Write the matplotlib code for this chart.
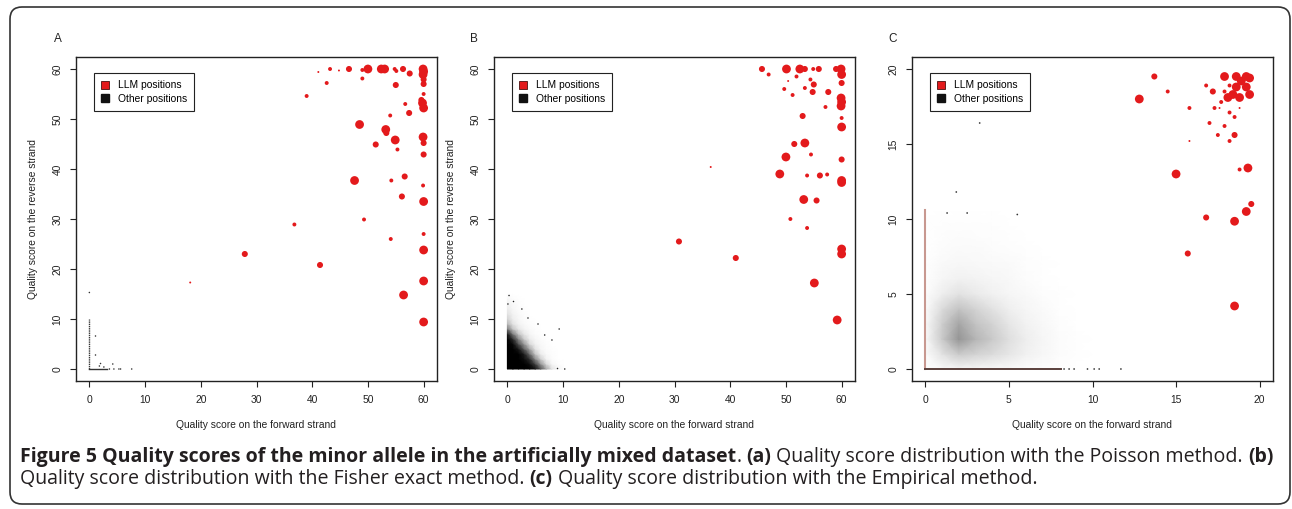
import numpy as np
import matplotlib
matplotlib.use("Agg")
import matplotlib.pyplot as plt
from matplotlib import font_manager
from matplotlib.font_manager import FontProperties
from matplotlib.lines import Line2D
from matplotlib.patches import FancyBboxPatch
from matplotlib.transforms import IdentityTransform

# ---- data ----
# size class of each LLM point: 1 tiny, 2 small, 3 medium, 4 large

# panel A, Poisson method
a_llm_fwd = [41.1, 43.2, 44.8, 46.6, 49.0, 50.0, 52.4, 53.0, 54.8, 55.1, 56.3, 57.5, 59.9, 60.0,
             59.9, 60.0, 60.0, 42.6, 49.0, 55.0, 39.0, 60.0, 59.8, 60.0, 59.6, 56.7, 57.4, 54.0,
             48.5, 53.2, 53.3, 54.9, 51.4, 55.3, 59.9, 60.0, 60.0, 47.6, 54.2, 56.6, 59.9, 56.1,
             60.0, 36.8, 49.3, 54.1, 60.0, 60.0, 41.4, 27.9, 18.1, 60.0, 56.4, 60.0]
a_llm_rev = [59.4, 60.0, 59.7, 60.0, 59.8, 60.0, 60.0, 60.0, 60.0, 59.6, 60.0, 59.1, 60.0, 59.5,
             58.9, 57.9, 57.0, 57.2, 58.1, 56.8, 54.6, 55.0, 53.2, 52.2, 53.8, 53.0, 51.2, 50.7,
             48.9, 47.9, 47.2, 45.8, 44.9, 43.9, 46.4, 45.2, 42.9, 37.7, 37.7, 38.5, 36.7, 34.5,
             33.5, 28.9, 29.9, 26.0, 27.0, 23.8, 20.8, 23.0, 17.3, 17.6, 14.8, 9.4]
a_llm_size = [1, 2, 1, 3, 2, 4, 4, 4, 2, 2, 3, 3, 4, 4,
              4, 3, 3, 2, 2, 3, 2, 2, 4, 4, 3, 2, 3, 2,
              4, 4, 3, 4, 3, 2, 4, 3, 3, 4, 2, 3, 2, 3,
              4, 2, 2, 2, 2, 4, 3, 3, 1, 4, 4, 4]
a_oth_fwd = [0.0, 1.1, 1.1, 2.0, 1.8, 4.2, 2.6, 3.6, 4.4, 5.3, 5.6, 7.6]
a_oth_rev = [15.3, 6.6, 2.8, 1.1, 0.6, 1.0, 0.4, 0.0, 0.0, 0.0, 0.0, 0.0]
a_rev_max_at_fwd0 = 10.0
a_fwd_max_at_rev0 = 3.2

# panel B, Fisher exact method
b_llm_fwd = [45.7, 46.9, 50.1, 52.5, 53.4, 54.9, 55.9, 59.0, 59.9, 60.0, 60.0, 50.4, 51.9, 54.4,
             55.0, 49.7, 53.4, 54.8, 57.6, 51.2, 59.9, 59.9, 60.0, 57.1, 60.0, 53.0, 60.0, 51.5,
             53.4, 54.5, 50.0, 60.0, 36.5, 48.9, 53.8, 56.1, 57.4, 60.0, 60.0, 53.2, 55.5, 50.8,
             53.8, 60.0, 60.0, 41.0, 30.8, 55.1, 59.2]
b_llm_rev = [60.0, 58.9, 60.0, 60.0, 60.0, 60.0, 60.0, 60.0, 60.0, 58.9, 57.2, 57.6, 58.5, 57.9,
             56.9, 56.0, 56.2, 55.4, 55.4, 54.8, 54.2, 52.6, 53.4, 52.4, 50.2, 50.6, 48.4, 45.0,
             45.2, 42.9, 42.4, 41.9, 40.4, 39.0, 38.7, 38.7, 38.9, 37.7, 37.3, 33.9, 33.7, 30.0,
             28.2, 24.0, 23.0, 22.2, 25.5, 17.2, 9.8]
b_llm_size = [3, 2, 4, 4, 3, 2, 3, 3, 4, 4, 3, 1, 2, 2,
              3, 2, 2, 3, 3, 2, 4, 4, 4, 2, 2, 3, 4, 3,
              4, 2, 4, 3, 1, 4, 2, 3, 2, 4, 4, 4, 3, 2,
              2, 4, 4, 3, 3, 4, 4]
b_oth_fwd = [9.3, 6.7, 8.0, 1.1, 2.6, 3.7, 5.5, 10.3, 9.0, 0.3, 0.1]
b_oth_rev = [8.0, 6.8, 5.8, 13.5, 12.0, 10.2, 9.0, 0.0, 0.1, 14.7, 13.0]
# density of the other positions on a 1-unit grid (rows: reverse 0..15, cols: forward 0..10)
b_density = [
    [1, 1, 1, 1, 1, .95, .75, .45, .2, .08, .03],
    [1, 1, 1, 1, .95, .8, .5, .25, .08, .03, 0],
    [1, 1, 1, .95, .85, .55, .3, .1, .03, 0, 0],
    [1, 1, 1, .9, .65, .35, .15, .05, .02, 0, 0],
    [1, 1, .92, .7, .45, .2, .08, .03, .01, 0, 0],
    [1, .97, .75, .5, .25, .12, .05, .02, 0, 0, 0],
    [1, .85, .55, .32, .15, .07, .03, .01, 0, 0, 0],
    [.92, .6, .35, .18, .08, .03, .01, 0, 0, 0, 0],
    [.6, .35, .18, .09, .04, .02, 0, 0, 0, 0, 0],
    [.4, .2, .1, .05, .02, 0, 0, 0, 0, 0, 0],
    [.28, .14, .07, .03, .01, 0, 0, 0, 0, 0, 0],
    [.2, .1, .05, .02, 0, 0, 0, 0, 0, 0, 0],
    [.15, .07, .03, .01, 0, 0, 0, 0, 0, 0, 0],
    [.1, .05, .02, 0, 0, 0, 0, 0, 0, 0, 0],
    [.07, .03, .01, 0, 0, 0, 0, 0, 0, 0, 0],
    [0, 0, 0, 0, 0, 0, 0, 0, 0, 0, 0],
]

# panel C, Empirical method
c_llm_fwd = [13.7, 14.5, 12.8, 17.9, 18.6, 19.2, 19.4, 18.9, 19.2, 18.6, 18.4, 18.8, 19.4, 18.1,
             16.8, 17.2, 17.9, 18.2, 15.8, 17.3, 17.6, 18.8, 18.2, 17.7, 18.5, 17.0, 17.9, 17.5,
             18.5, 18.2, 15.8, 19.3, 18.8, 15.0, 19.5, 19.2, 16.8, 18.5, 15.7, 18.5]
c_llm_rev = [19.5, 18.5, 18.0, 19.5, 19.5, 19.5, 19.4, 19.2, 18.8, 18.8, 18.3, 18.1, 18.3, 18.1,
             18.9, 18.5, 18.5, 18.9, 17.4, 17.4, 17.4, 17.4, 17.1, 17.8, 16.8, 16.4, 16.2, 15.6,
             15.6, 15.2, 15.2, 13.4, 13.3, 13.0, 11.0, 10.5, 10.1, 9.85, 7.7, 4.2]
c_llm_size = [3, 2, 4, 4, 4, 4, 4, 4, 4, 4, 4, 4, 4, 4,
              2, 3, 2, 2, 2, 2, 1, 1, 2, 2, 2, 2, 2, 2,
              3, 2, 1, 4, 2, 4, 3, 4, 3, 4, 3, 4]
c_oth_fwd = [3.25, 1.85, 1.3, 2.5, 5.5, 8.3, 8.6, 8.9, 9.7, 10.1, 10.4, 11.7]
c_oth_rev = [16.4, 11.8, 10.4, 10.4, 10.3, 0, 0, 0, 0, 0, 0, 0]
c_rev_max_at_fwd0 = 10.6
c_fwd_max_at_rev0 = 8.1
# rows: reverse 0..11, cols: forward 0..10
c_density = [
    [0, .05, .08, .08, .06, .05, .03, .02, .01, 0, 0],
    [.03, .2, .32, .28, .24, .18, .12, .07, .03, .01, 0],
    [.04, .32, .5, .4, .32, .22, .14, .08, .03, .01, 0],
    [.04, .3, .45, .35, .28, .18, .11, .06, .02, 0, 0],
    [.03, .24, .35, .28, .2, .13, .08, .04, .01, 0, 0],
    [.02, .14, .2, .16, .12, .08, .05, .02, .01, 0, 0],
    [.01, .08, .12, .1, .08, .06, .03, .01, 0, 0, 0],
    [.01, .05, .07, .06, .05, .04, .02, .01, 0, 0, 0],
    [0, .03, .04, .04, .03, .02, .01, 0, 0, 0, 0],
    [0, .02, .03, .02, .02, .01, 0, 0, 0, 0, 0],
    [0, .01, .01, .01, .01, 0, 0, 0, 0, 0, 0],
    [0, 0, 0, 0, 0, 0, 0, 0, 0, 0, 0],
]

caption_l1 = [("Figure 5 Quality scores of the minor allele in the artificially mixed dataset", "bold", False),
              (".", "normal", True),
              ("(a)", "bold", True),
              ("Quality score distribution with the Poisson method.", "normal", True),
              ("(b)", "bold", False)]
caption_l2 = [("Quality score distribution with the Fisher exact method.", "normal", True),
              ("(c)", "bold", True),
              ("Quality score distribution with the Empirical method.", "normal", False)]

RED = "#e31a1c"
SIZE_PT = {1: 2, 2: 8, 3: 19, 4: 40}
W, H = 1292, 509
FS = 7.4


def pick_font(cands):
    for c in cands:
        try:
            font_manager.findfont(FontProperties(family=c), fallback_to_default=False)
            return c
        except ValueError:
            pass
    return "DejaVu Sans"


AX_FONT = pick_font(["Liberation Sans", "Arial"])
CAP_FONT = pick_font(["Open Sans", "Lato"])
plt.rcParams["font.family"] = [AX_FONT, "DejaVu Sans"]

fig = plt.figure(figsize=(W / 100, H / 100), dpi=100)

# outer rounded frame
fig.patches.append(FancyBboxPatch((0.10, 0.05), 12.80, 4.97,
                                  boxstyle="round,pad=0,rounding_size=0.12",
                                  transform=fig.dpi_scale_trans, fill=False,
                                  edgecolor="#333333", linewidth=1.2))


def setup_axes(left, xmax, ticks, letter, letter_x, ylabel_x):
    ax = fig.add_axes([left / W, 128 / H, 361 / W, 324 / H])
    pad = xmax * 0.04
    ax.set_xlim(-pad, xmax + pad)
    ax.set_ylim(-pad, xmax + pad)
    ax.set_xticks(ticks)
    ax.set_yticks(ticks)
    ax.tick_params(direction="out", length=4.3, width=0.8, labelsize=FS,
                   colors="#222222", pad=6)
    ax.tick_params(axis="y", labelrotation=90, pad=5.5)
    for lab in ax.get_yticklabels():
        lab.set_va("center")
    for sp in ax.spines.values():
        sp.set_linewidth(1.0)
        sp.set_color("#222222")
    fig.text(letter_x / W, 1 - 39 / H, letter, ha="center", va="center",
             fontsize=8.5, color="#222222")
    fig.text((left + 180.5) / W, 1 - 425 / H, "Quality score on the forward strand",
             ha="center", va="center", fontsize=FS, color="#222222")
    if ylabel_x is not None:
        fig.text(ylabel_x / W, 1 - 219 / H, "Quality score on the reverse strand",
                 ha="center", va="center", rotation=90, fontsize=FS, color="#222222")
    handles = [Line2D([], [], marker="s", ls="none", mfc=RED, mec="#4a1010", ms=5.5, mew=0.6),
               Line2D([], [], marker="s", ls="none", mfc="#111111", mec="#111111", ms=5.5)]
    leg = ax.legend(handles, ["LLM positions", "Other positions"], loc="upper left",
                    bbox_to_anchor=(0.05, 0.95), borderaxespad=0, fontsize=FS,
                    fancybox=False, framealpha=1, edgecolor="#222222",
                    handlelength=0.8, handletextpad=0.8, labelspacing=0.32,
                    borderpad=0.7)
    leg.get_frame().set_linewidth(0.8)
    leg.set_zorder(10)
    return ax


def draw_llm(ax, fx, ry, sz):
    ax.scatter(fx, ry, s=[SIZE_PT[v] for v in sz], color=RED, edgecolors="none", zorder=5)


def draw_density(ax, dens):
    d = np.array(dens, dtype=float)
    X, Y = np.meshgrid(np.arange(d.shape[1]), np.arange(d.shape[0]))
    ax.pcolormesh(X, Y, d, shading="gouraud", cmap="Greys", vmin=0, vmax=1, zorder=1)


# panel A
axA = setup_axes(76, 60, range(0, 61, 10), "A", 58, 33)
axA.plot([0, 0], [0, a_rev_max_at_fwd0], color="#333333", lw=1.0, ls=(0, (1, 0.6)), zorder=2)
axA.plot([0, a_fwd_max_at_rev0], [0, 0], color="#333333", lw=1.0, zorder=2)
axA.scatter(a_oth_fwd, a_oth_rev, s=1.2, color="#333333", edgecolors="none", zorder=2)
draw_llm(axA, a_llm_fwd, a_llm_rev, a_llm_size)

# panel B
axB = setup_axes(494, 60, range(0, 61, 10), "B", 474, 451)
draw_density(axB, b_density)
axB.scatter(b_oth_fwd, b_oth_rev, s=1.2, color="#222222", edgecolors="none", zorder=2)
draw_llm(axB, b_llm_fwd, b_llm_rev, b_llm_size)

# panel C
axC = setup_axes(912, 20, range(0, 21, 5), "C", 893, None)
draw_density(axC, c_density)
axC.plot([0, 0], [0, c_rev_max_at_fwd0], color="#c89890", lw=1.5, zorder=2)
axC.plot([0, c_fwd_max_at_rev0], [0, 0], color="#5a403c", lw=1.4, zorder=2)
axC.scatter(c_oth_fwd, c_oth_rev, s=1.5, color="#333333", edgecolors="none", zorder=2)
draw_llm(axC, c_llm_fwd, c_llm_rev, c_llm_size)

# ---- caption with mixed bold / regular runs ----
fig.canvas.draw()
rend = fig.canvas.get_renderer()
CAP_COLOR = "#231f20"


def text_w(s, size, weight):
    t = fig.text(0, 0, s, fontsize=size, fontweight=weight, family=[CAP_FONT, "DejaVu Sans"],
                 transform=IdentityTransform())
    w = t.get_window_extent(rend).width
    t.remove()
    return w


def space_w(size, weight):
    return text_w("n n", size, weight) - text_w("nn", size, weight)


def line_w(parts, size):
    total = 0
    for s, wt, gap in parts:
        total += text_w(s, size, wt)
        if gap:
            total += space_w(size, wt)
    return total


size = 11.0
for _ in range(2):
    size *= 1258 / line_w(caption_l1, size)


def put_line(parts, x0, y, size):
    x = x0
    for s, wt, gap in parts:
        t = fig.text(x, y, s, fontsize=size, fontweight=wt, family=[CAP_FONT, "DejaVu Sans"],
                     color=CAP_COLOR, ha="left", va="baseline", transform=IdentityTransform())
        x += t.get_window_extent(rend).width
        if gap:
            x += space_w(size, wt)


put_line(caption_l1, 20, H - 462, size)
put_line(caption_l2, 20, H - 484, size)

fig.savefig("out.png", dpi=100)
